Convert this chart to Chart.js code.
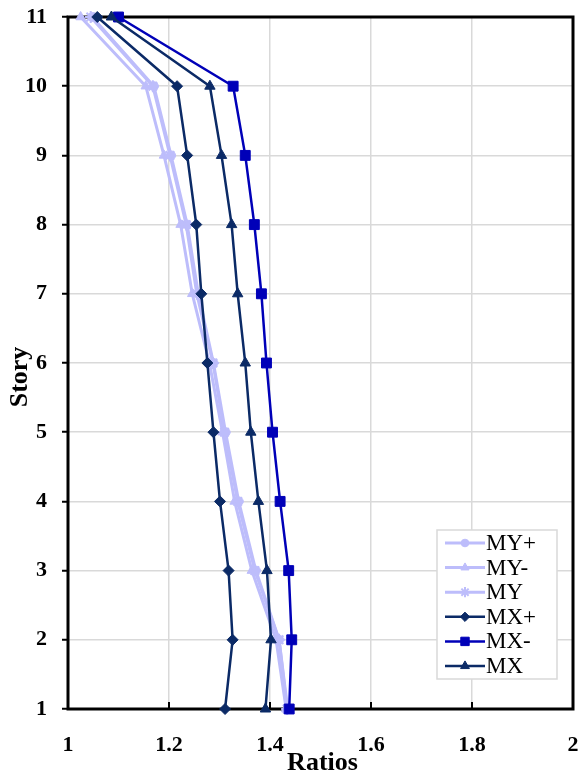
<!DOCTYPE html>
<html>
<head>
<meta charset="utf-8">
<script src="https://cdn.jsdelivr.net/npm/chart.js@4.4.1/dist/chart.umd.min.js"></script>
<style>
  html, body { margin: 0; padding: 0; background: #ffffff; }
  #wrap { position: relative; width: 581px; height: 771px; }
</style>
</head>
<body>
<div id="wrap"><canvas id="c" width="581" height="771"></canvas></div>
<script>
// ---- data ----
const stories = [1, 2, 3, 4, 5, 6, 7, 8, 9, 10, 11];
const seriesNames = ["MY+", "MY-", "MY", "MX+", "MX-", "MX"];
const myPlus  = [1.435, 1.418, 1.372, 1.338, 1.312, 1.288, 1.258, 1.236, 1.204, 1.170, 1.048];
const myMinus = [1.432, 1.412, 1.364, 1.330, 1.306, 1.280, 1.246, 1.223, 1.190, 1.154, 1.025];
const my      = [1.434, 1.418, 1.370, 1.336, 1.310, 1.287, 1.255, 1.234, 1.202, 1.168, 1.045];
const mxPlus  = [1.311, 1.326, 1.318, 1.301, 1.288, 1.276, 1.264, 1.254, 1.236, 1.216, 1.058];
const mxMinus = [1.438, 1.443, 1.437, 1.420, 1.405, 1.393, 1.383, 1.369, 1.351, 1.327, 1.100];
const mx      = [1.391, 1.402, 1.394, 1.377, 1.362, 1.351, 1.336, 1.324, 1.304, 1.281, 1.086];
const xTickValues = [1, 1.2, 1.4, 1.6, 1.8, 2];
const xTitle = "Ratios";
const yTitle = "Story";

const LIGHT = "#BDBDFB";
const NAVY = "#0B2A66";
const BLUE = "#0000B8";

function pts(vals) { return vals.map((v, i) => ({ x: v, y: stories[i] })); }

const styles = [
  { color: LIGHT, style: "circle",   r: 4.5, lw: 3 },
  { color: LIGHT, style: "triangle", r: 5.5, lw: 3 },
  { color: LIGHT, style: "star",     r: 6,   lw: 3 },
  { color: NAVY,  style: "rectRot",  r: 5.5, lw: 2.5 },
  { color: BLUE,  style: "rect",     r: 7,   lw: 2.5 },
  { color: NAVY,  style: "triangle", r: 6,   lw: 2.5 }
];
const valueSets = [myPlus, myMinus, my, mxPlus, mxMinus, mx];

const datasets = valueSets.map((vals, i) => ({
  label: seriesNames[i],
  data: pts(vals),
  borderColor: styles[i].color,
  backgroundColor: styles[i].color,
  borderWidth: styles[i].lw,
  pointStyle: styles[i].style,
  pointRadius: styles[i].r,
  pointBorderWidth: styles[i].style === "star" ? 2 : 1,
  pointBackgroundColor: styles[i].color,
  pointBorderColor: styles[i].color,
  tension: 0,
  clip: false,
  order: 10 - i
}));

const FONT = "'Liberation Serif', 'Times New Roman', serif";

const framePlugin = {
  id: "frame",
  beforeDatasetsDraw(chart) {
    const { ctx, chartArea: a, scales } = chart;
    ctx.save();
    ctx.strokeStyle = "#000";
    ctx.lineWidth = 2;
    xTickValues.forEach(v => {
      const px = scales.x.getPixelForValue(v);
      ctx.beginPath();
      ctx.moveTo(px, a.bottom);
      ctx.lineTo(px, a.bottom - 7);
      ctx.stroke();
    });
    ctx.lineWidth = 3;
    ctx.strokeRect(a.left, a.top, a.right - a.left, a.bottom - a.top);
    ctx.restore();
  },
  afterDraw(chart) {
    const { ctx, chartArea: a } = chart;
    ctx.save();
    ctx.fillStyle = "#000";
    ctx.font = "bold 26px " + FONT;
    ctx.textAlign = "center";
    ctx.textBaseline = "alphabetic";
    ctx.fillText(xTitle, (a.left + a.right) / 2 + 2, 770);
    ctx.save();
    ctx.translate(27, 377);
    ctx.rotate(-Math.PI / 2);
    ctx.fillText(yTitle, 0, 0);
    ctx.restore();

    // legend
    const bx = 437, by = 530, bw = 120, bh = 149;
    ctx.fillStyle = "#fff";
    ctx.fillRect(bx, by, bw, bh);
    ctx.strokeStyle = "#D9D9D9";
    ctx.lineWidth = 1.5;
    ctx.strokeRect(bx, by, bw, bh);
    chart.data.datasets.forEach((ds, i) => {
      const y = 543 + i * 24.6;
      ctx.strokeStyle = ds.borderColor;
      ctx.lineWidth = ds.borderWidth;
      ctx.beginPath();
      ctx.moveTo(445, y);
      ctx.lineTo(485, y);
      ctx.stroke();
      ctx.fillStyle = ds.backgroundColor;
      ctx.lineWidth = ds.pointBorderWidth;
      Chart.helpers.drawPoint(ctx, {
        pointStyle: ds.pointStyle,
        radius: ds.pointRadius * 0.85,
        rotation: 0,
        borderWidth: ds.pointBorderWidth
      }, 465, y);
      ctx.fillStyle = "#000";
      ctx.font = "23px " + FONT;
      ctx.textAlign = "left";
      ctx.textBaseline = "middle";
      ctx.fillText(ds.label, 486, y + 1);
    });
    ctx.restore();
  }
};

new Chart(document.getElementById("c"), {
  type: "line",
  data: { datasets },
  plugins: [framePlugin],
  options: {
    responsive: false,
    animation: false,
    layout: { padding: { top: 17, right: 7, left: 0, bottom: 0 } },
    plugins: { legend: { display: false }, tooltip: { enabled: false } },
    scales: {
      x: {
        type: "linear",
        min: 1, max: 2,
        afterFit(s) { s.height = 62; s.paddingLeft = 0; s.paddingRight = 0; },
        afterBuildTicks(s) { s.ticks = xTickValues.map(v => ({ value: v })); },
        grid: { color: "#D9D9D9", lineWidth: 1.5, drawTicks: false },
        border: { display: false },
        ticks: {
          padding: 23,
          color: "#000",
          font: { family: FONT, size: 22, weight: "bold" },
          maxRotation: 0,
          autoSkip: false,
          callback: v => String(Math.round(v * 10) / 10)
        },
        title: { display: false }
      },
      y: {
        type: "linear",
        min: 1, max: 11,
        afterFit(s) { s.width = 68; s.paddingTop = 0; s.paddingBottom = 0; },
        grid: { color: "#D9D9D9", lineWidth: 1.5, tickColor: "#000", tickLength: 6, tickWidth: 2 },
        border: { display: false },
        ticks: {
          stepSize: 1,
          padding: 15,
          color: "#000",
          font: { family: FONT, size: 22, weight: "bold" }
        },
        title: { display: false }
      }
    }
  }
});
</script>
</body>
</html>
